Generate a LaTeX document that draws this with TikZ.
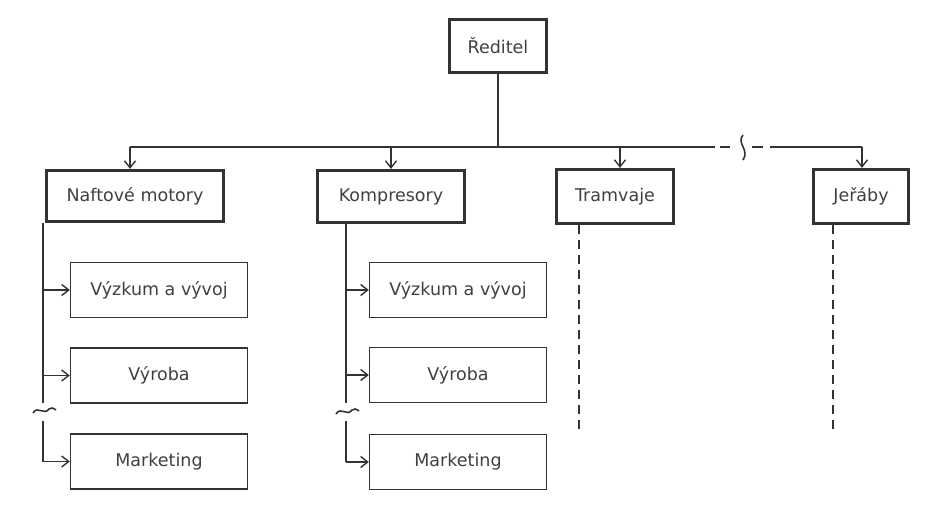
\documentclass[tikz,border=0pt]{standalone}
\usepackage{fontspec}
\setmainfont{DejaVu Sans}
\usetikzlibrary{arrows.meta}
\definecolor{ink}{HTML}{333333}
\definecolor{txt}{HTML}{404040}
\tikzset{
  headbox/.style={draw=ink, line width=3.2pt, fill=white, inner sep=0pt,
    text=txt, font=\fontsize{17.5}{20}\selectfont},
  subbox/.style={draw=ink, line width=1.4pt, fill=white, inner sep=0pt,
    minimum width=177pt, minimum height=55pt,
    text=txt, font=\fontsize{17.5}{20}\selectfont},
  link/.style={draw=ink, line width=1.5pt},
  arr/.style={link, -{Straight Barb[length=7pt,width=11pt,line width=1.4pt]}},
  dashlink/.style={draw=ink, line width=2pt, dash pattern=on 9pt off 6pt},
  breakmark/.style={draw=ink, line width=1.6pt}
}
\begin{document}
\begin{tikzpicture}[x=1pt,y=-1pt]
\useasboundingbox[fill=white] (0,0) rectangle (942,516);

% top level
\node[headbox, minimum width=97pt, minimum height=53pt] (red) at (498,46) {Ředitel};

% divisions
\node[headbox, minimum width=177pt, minimum height=51pt] (naft) at (135,196) {Naftové motory};
\node[headbox, minimum width=147pt, minimum height=52pt] (komp) at (391,196.5) {Kompresory};
\node[headbox, minimum width=117pt, minimum height=54pt] (tram) at (615,196.5) {Tramvaje};
\node[headbox, minimum width=95pt, minimum height=54pt] (jer) at (861,196.5) {Jeřáby};

% departments of Naftové motory
\node[subbox] (n1) at (159,290) {Výzkum a vývoj};
\node[subbox] (n2) at (159,375.5) {Výroba};
\node[subbox] (n3) at (159,461.5) {Marketing};

% departments of Kompresory
\node[subbox] (k1) at (458,290) {Výzkum a vývoj};
\node[subbox] (k2) at (458,375) {Výroba};
\node[subbox] (k3) at (458,462) {Marketing};

% bus line below the director
\coordinate (bus) at (498,147);
\coordinate (naftin) at (130,147);
\coordinate (kompin) at (391,147);
\coordinate (tramin) at (620,147);
\coordinate (jerin) at (862,147);
\coordinate (busend) at (715,147);
\coordinate (busres) at (770,147);

\draw[link] (red.south) -- (bus);
\draw[link] (naftin) -- (busend);
\draw[link] (720,147) -- (730,147);
\draw[link] (752,147) -- (763,147);
\draw[link] (busres) -- (jerin);
\draw[breakmark] (743,135) .. controls (736,143) and (750,150) .. (743,160);

\draw[arr] (naftin) -- (naftin |- naft.north);
\draw[arr] (kompin) -- (kompin |- komp.north);
\draw[arr] (tramin) -- (tramin |- tram.north);
\draw[arr] (jerin) -- (jerin |- jer.north);

% trunk of Naftové motory
\coordinate (nt0) at (43,223);
\coordinate (nt1) at (43,403);
\coordinate (nt2) at (43,421);
\draw[link] (nt0) -- (nt1);
\draw[link] (nt2) -- (nt2 |- n3.west);
\draw[arr] (nt0 |- n1.west) -- (n1.west);
\draw[arr] (nt0 |- n2.west) -- (n2.west);
\draw[arr] (nt2 |- n3.west) -- (n3.west);
\draw[breakmark] (33,413) .. controls (38,405) and (44,416) .. (49,409) .. controls (51,407) and (53,408) .. (56,410);

% trunk of Kompresory
\coordinate (kt0) at (346,224);
\coordinate (kt1) at (346,403);
\coordinate (kt2) at (346,421);
\draw[link] (kt0) -- (kt1);
\draw[link] (kt2) -- (kt2 |- k3.west);
\draw[arr] (kt0 |- k1.west) -- (k1.west);
\draw[arr] (kt0 |- k2.west) -- (k2.west);
\draw[arr] (kt2 |- k3.west) -- (k3.west);
\draw[breakmark] (336,414) .. controls (341,406) and (347,417) .. (352,410) .. controls (354,408) and (356,409) .. (359,411);

% open-ended divisions
\coordinate (tramend) at (579,434);
\coordinate (jerend) at (833,434);
\draw[dashlink] (tramend |- tram.south) -- (tramend);
\draw[dashlink] (jerend |- jer.south) -- (jerend);
\end{tikzpicture}
\end{document}
